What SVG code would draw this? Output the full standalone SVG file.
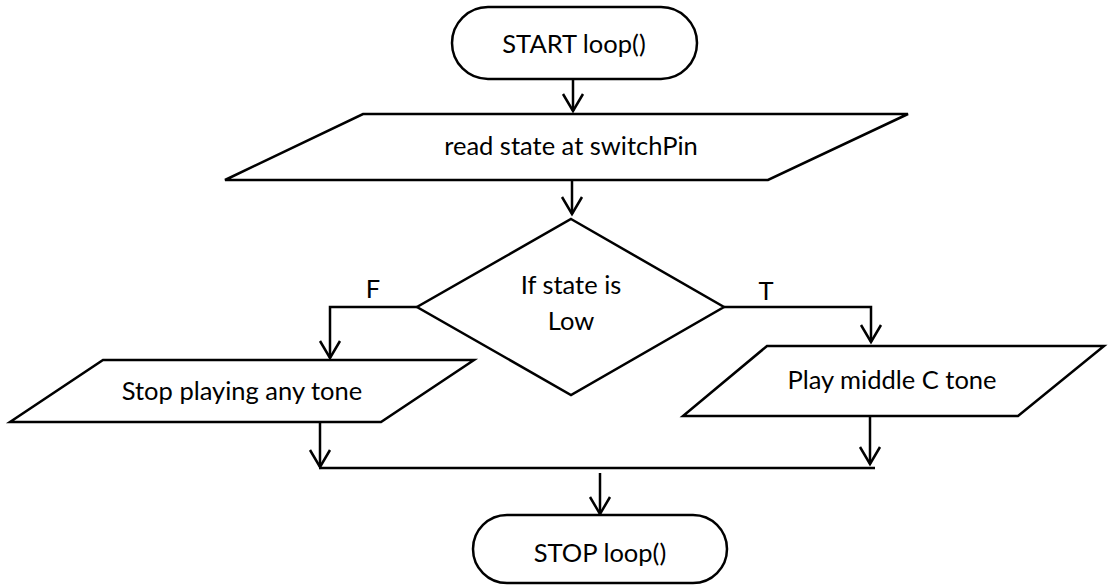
<svg xmlns="http://www.w3.org/2000/svg" width="1109" height="586" viewBox="0 0 1109 586">
  <style>
    .shape { fill: #ffffff; stroke: #000000; stroke-width: 2.5; stroke-linejoin: miter; }
    .conn { fill: none; stroke: #000000; stroke-width: 2.5; }
    .lbl { font-family: Lato, "Open Sans", "Liberation Sans", sans-serif; font-size: 25.5px; fill: #000000; text-anchor: middle; }
  </style>
  <defs>
    <marker id="arrow" viewBox="-20 -13 23 26" markerWidth="23" markerHeight="26" refX="0" refY="0" orient="auto" markerUnits="userSpaceOnUse">
      <path d="M -17,-10 L 0,0 L -17,10" fill="none" stroke="#000000" stroke-width="2.5"/>
    </marker>
  </defs>
  <rect width="1109" height="586" fill="#ffffff"/>
  <g id="connectors">
    <path class="conn" d="M573,79 V111" marker-end="url(#arrow)"/>
    <path class="conn" d="M572,180 V214" marker-end="url(#arrow)"/>
    <path class="conn" d="M417,307 H330 V358" marker-end="url(#arrow)"/>
    <path class="conn" d="M724,307 H871 V342" marker-end="url(#arrow)"/>
    <path class="conn" d="M320,422 V467" marker-end="url(#arrow)"/>
    <path class="conn" d="M870,416 V464" marker-end="url(#arrow)"/>
    <path class="conn" d="M319,468 H875"/>
    <path class="conn" d="M600,473 V514" marker-end="url(#arrow)"/>
    <text class="lbl" x="373" y="298">F</text>
    <text class="lbl" x="766" y="300">T</text>
  </g>
  <g id="start">
    <rect class="shape" x="452" y="7" width="245" height="72" rx="36" ry="36"/>
    <text class="lbl" x="574" y="53">START loop()</text>
  </g>
  <g id="read">
    <polygon class="shape" points="363,114 908,114 768,180 225,180"/>
    <text class="lbl" x="571" y="155">read state at switchPin</text>
  </g>
  <g id="decision">
    <polygon class="shape" points="571,219 724,307 571,395 417,307"/>
    <text class="lbl" x="571" y="294">If state is</text>
    <text class="lbl" x="571" y="330">Low</text>
  </g>
  <g id="stopPlaying">
    <polygon class="shape" points="103,360 474,360 381,422 10,422"/>
    <text class="lbl" x="242" y="400">Stop playing any tone</text>
  </g>
  <g id="playC">
    <polygon class="shape" points="767,346 1104,346 1018,416 683,416"/>
    <text class="lbl" x="892" y="389">Play middle C tone</text>
  </g>
  <g id="stop">
    <rect class="shape" x="473" y="515" width="254" height="68" rx="34" ry="34"/>
    <text class="lbl" x="600" y="562">STOP loop()</text>
  </g>
</svg>
